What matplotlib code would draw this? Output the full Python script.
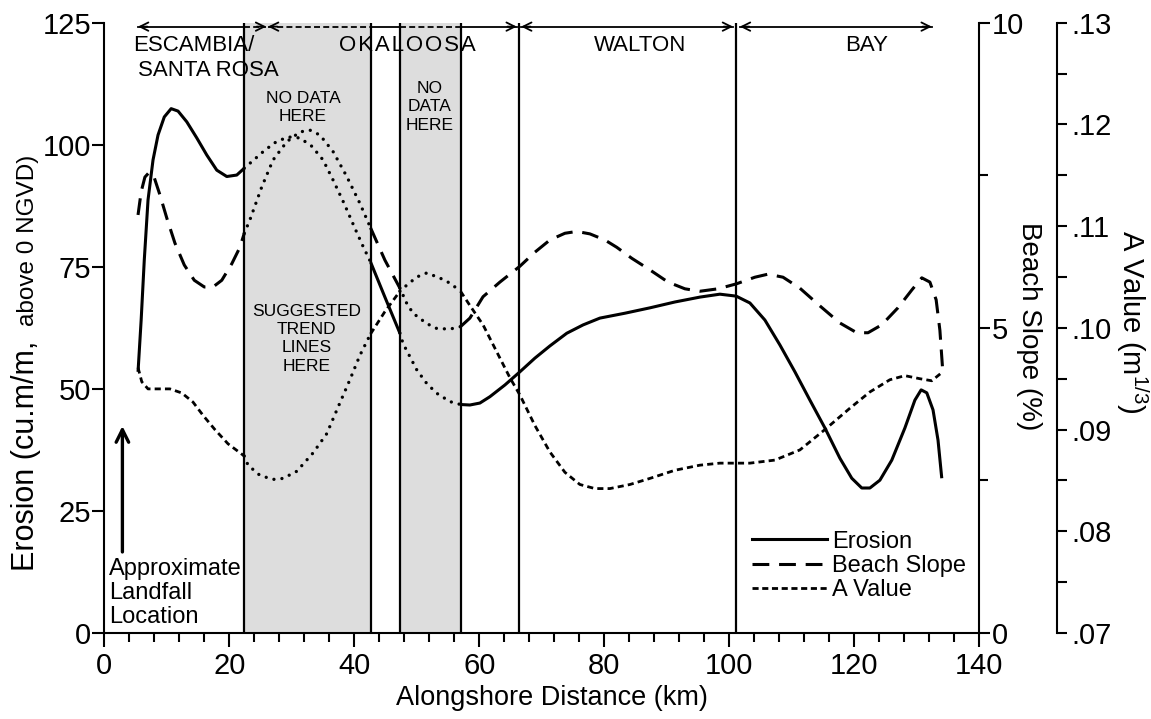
import numpy as np
import matplotlib.pyplot as plt
from matplotlib import ticker
from matplotlib.lines import Line2D

plt.rcParams['font.family'] = ['Liberation Sans', 'DejaVu Sans']

# alongshore distance (km) and values
erosion_km = [5.4, 5.9, 6.4, 7.0, 7.8, 8.6, 9.6, 10.7, 11.8, 13.2, 14.8, 16.4, 18.0, 19.6, 21.2, 22.4,
              24.1, 25.7, 27.5, 29.4, 31.3, 33.2, 35.0, 36.6, 38.4, 40.1, 41.4, 42.6, 44.9, 47.3,
              47.8, 48.9, 50.0, 51.6, 53.2, 55.3, 57.0, 58.5, 60.1, 61.7, 64.1, 66.5, 68.9, 71.3,
              74.0, 76.6, 79.3, 83.3, 87.3, 91.3, 95.3, 98.5, 101.1, 103.3, 105.7, 108.1, 110.5,
              112.9, 115.3, 117.7, 119.6, 121.2, 122.5, 124.1, 126.0, 128.1, 129.7, 130.7, 131.6,
              132.6, 133.4, 134.0]
erosion = [53.5, 64.1, 76.4, 88.7, 96.9, 102.0, 105.7, 107.4, 106.9, 104.7, 101.4, 97.9, 94.8, 93.5,
           93.8, 95.2, 97.1, 98.9, 100.6, 101.6, 101.4, 99.7, 96.9, 92.8, 87.9, 82.9, 79.2, 76.0,
           68.8, 61.4, 59.3, 56.6, 53.9, 51.1, 49.1, 47.4, 46.8, 46.7, 47.1, 48.4, 50.8, 53.5, 56.3,
           58.8, 61.4, 63.1, 64.5, 65.5, 66.6, 67.8, 68.8, 69.4, 69.0, 67.6, 64.1, 59.0, 53.5, 47.7,
           42.0, 35.8, 31.7, 29.7, 29.7, 31.3, 35.4, 42.0, 47.7, 49.8, 49.2, 45.7, 39.5, 31.7]

slope_km = [5.4, 5.9, 6.5, 7.2, 8.0, 8.9, 10.0, 11.3, 12.8, 14.4, 16.0, 17.4, 18.8, 20.4, 21.7, 22.4,
            23.3, 25.2, 27.0, 29.2, 31.3, 32.9, 34.5, 36.6, 38.8, 40.9, 42.6, 44.9, 47.3, 48.4,
            49.4, 51.6, 53.2, 55.3, 57.0, 58.5, 60.6, 63.3, 66.5, 68.9, 71.3, 73.7, 75.6, 77.7,
            80.1, 82.0, 84.4, 87.3, 90.2, 92.9, 95.3, 98.2, 101.1, 104.1, 106.2, 108.6, 111.3,
            114.5, 117.7, 120.4, 122.2, 124.4, 127.0, 129.2, 130.8, 132.1, 133.1, 133.7, 134.2]
slope = [6.85, 7.23, 7.47, 7.55, 7.46, 7.18, 6.80, 6.39, 6.03, 5.78, 5.67, 5.67, 5.78, 6.05, 6.32,
         6.55, 6.77, 7.31, 7.75, 8.05, 8.21, 8.24, 8.16, 7.89, 7.48, 7.04, 6.64, 6.11, 5.65, 5.40,
         5.24, 5.07, 4.99, 4.98, 5.02, 5.16, 5.51, 5.75, 6.01, 6.24, 6.44, 6.55, 6.58, 6.54, 6.44,
         6.32, 6.14, 5.95, 5.75, 5.64, 5.60, 5.64, 5.72, 5.83, 5.88, 5.83, 5.65, 5.36, 5.08, 4.92,
         4.92, 5.05, 5.33, 5.62, 5.82, 5.75, 5.46, 4.96, 4.23]

a_km = [5.4, 6.0, 7.0, 8.6, 10.5, 12.4, 14.2, 15.8, 17.7, 19.8, 22.4, 23.0, 24.9, 27.0, 28.6, 30.8,
        33.4, 35.6, 37.4, 39.3, 40.9, 42.6, 44.9, 47.3, 48.4, 50.0, 51.6, 53.7, 55.3, 57.0, 58.5,
        60.6, 62.5, 64.9, 66.5, 68.9, 71.3, 73.7, 76.1, 78.5, 80.9, 84.1, 87.3, 91.3, 95.3, 98.5,
        103.3, 107.3, 111.3, 115.3, 119.3, 122.5, 125.7, 128.1, 130.5, 132.4, 134.2]
a_value = [.0961, .0947, .0940, .0940, .0940, .0936, .0927, .0914, .0900, .0886, .0874, .0865, .0855,
           .0851, .0852, .0859, .0877, .0896, .0922, .0949, .0973, .0994, .1016, .1036, .1042, .1050,
           .1054, .1049, .1044, .1036, .1022, .1003, .0980, .0951, .0934, .0904, .0878, .0858, .0846,
           .0842, .0842, .0846, .0852, .0860, .0865, .0867, .0867, .0870, .0880, .0900, .0921, .0937,
           .0949, .0953, .0950, .0948, .0957]

county_lines = [22.4, 42.6, 47.3, 57.0, 66.4, 101.0]
no_data = [(22.4, 42.6), (47.3, 57.0)]
county_ranges = [(5.4, 25.9), (26.2, 66.0), (66.7, 100.6), (101.7, 132.4)]


def inside(x, strict=True):
    x = np.asarray(x)
    m = np.zeros(len(x), dtype=bool)
    for a, b in no_data:
        if strict:
            m |= (x > a + 1e-6) & (x < b - 1e-6)
        else:
            m |= (x >= a - 1e-6) & (x <= b + 1e-6)
    return m


dotted = dict(color='k', lw=2.4, ls=(0, (0.01, 2.4)), dash_capstyle='round', zorder=3)


def draw_series(axis, x, y, **style):
    x = np.asarray(x)
    y = np.asarray(y)
    axis.plot(x, np.where(inside(x), np.nan, y), color='k', zorder=3, **style)
    axis.plot(x, np.where(inside(x, strict=False), y, np.nan), **dotted)


fig = plt.figure(figsize=(11.51, 7.19), dpi=100)
ax = fig.add_axes([0.0906, 0.1196, 0.7602, 0.8488])
ax2 = ax.twinx()
ax3 = ax.twinx()

ax.set_xlim(0, 140)
ax.set_ylim(0, 125)
ax2.set_ylim(0, 10)
ax3.set_ylim(0.07, 0.13)

for a, b in no_data:
    ax.axvspan(a, b, color='#dddddd', lw=0, zorder=0)
for x in county_lines:
    ax.axvline(x, color='k', lw=1.6, zorder=1)

draw_series(ax, erosion_km, erosion, lw=2.2, solid_capstyle='butt')
draw_series(ax2, slope_km, slope, lw=2.2, ls=(0, (5.5, 3.2)))
draw_series(ax3, a_km, a_value, lw=2.0, ls=(0, (2.2, 1.5)))

# county arrows along the top
arrow_y = 124.2
for x0, x1 in county_ranges:
    edges = sorted([x0, x1] + [e for span in no_data for e in span if x0 < e < x1])
    for a, b in zip(edges[:-1], edges[1:]):
        gap = any(s0 < (a + b) / 2 < s1 for s0, s1 in no_data)
        ax.plot([a, b], [arrow_y, arrow_y], color='k', lw=1.3,
                ls=(0, (3.3, 1.8)) if gap else '-', zorder=2)
    for tip, tail in ((x0, x0 + 1.5), (x1, x1 - 1.5)):
        ax.annotate('', xy=(tip, arrow_y), xytext=(tail, arrow_y),
                    arrowprops=dict(arrowstyle='->,head_length=0.6,head_width=0.3', lw=1.3,
                                    color='k', shrinkA=0, shrinkB=0), zorder=2)

ax.text(4.6, 119.2, 'ESCAMBIA/', fontsize=16, ha='left', va='baseline')
ax.text(5.4, 114.1, 'SANTA ROSA', fontsize=16, ha='left', va='baseline')
ax.text(48.5, 119.2, '\u200a'.join('OKALOOSA'), fontsize=16, ha='center', va='baseline')
ax.text(85.7, 119.2, 'WALTON', fontsize=16, ha='center', va='baseline')
ax.text(121.9, 119.2, 'BAY', fontsize=16, ha='center', va='baseline')

ax.text(31.8, 107.6, 'NO DATA\nHERE', fontsize=12.5, ha='center', va='center', linespacing=1.28)
ax.text(52.0, 107.8, 'NO\nDATA\nHERE', fontsize=12.5, ha='center', va='center', linespacing=1.28)
ax.text(32.4, 60.3, 'SUGGESTED\nTREND\nLINES\nHERE', fontsize=12.5, ha='center', va='center',
        linespacing=1.28)

ax.annotate('', xy=(2.9, 42.4), xytext=(2.9, 16.6),
            arrowprops=dict(arrowstyle='->,head_length=0.9,head_width=0.45', lw=2.4, color='k',
                            shrinkA=0, shrinkB=0))
ax.text(0.7, 15.4, 'Approximate\nLandfall\nLocation', fontsize=17, ha='left', va='top',
        linespacing=1.12)

# axes and ticks
for s in ('top', 'right'):
    ax.spines[s].set_visible(False)
for a in (ax2, ax3):
    for s in ('top', 'left', 'bottom'):
        a.spines[s].set_visible(False)
ax3.spines['right'].set_position(('axes', 1.0888))
for a in (ax, ax2, ax3):
    for s in a.spines.values():
        s.set_linewidth(1.5)

ax.set_xticks(range(0, 141, 20))
ax.xaxis.set_minor_locator(ticker.MultipleLocator(4))
ax.set_yticks(range(0, 126, 25))
ax.tick_params(axis='x', which='major', length=10, width=1.5, labelsize=21, pad=4)
ax.tick_params(axis='x', which='minor', length=6.5, width=1.5)
ax.tick_params(axis='y', which='major', length=8.5, width=1.5, labelsize=21, pad=1)

ax2.set_yticks([0, 5, 10])
ax2.set_yticks([2.5, 7.5], minor=True)
ax2.tick_params(axis='y', which='major', length=8, width=1.5, labelsize=21, pad=1)
ax2.tick_params(axis='y', which='minor', length=6.5, width=1.5)

ax3.set_yticks(np.arange(7, 14) / 100)
ax3.set_yticks(np.arange(15, 26, 2) / 200, minor=True)
ax3.yaxis.set_major_formatter(ticker.FuncFormatter(lambda v, p: ('%.2f' % v)[1:]))
ax3.tick_params(axis='y', which='major', length=7.5, width=1.5, labelsize=21, pad=3)
ax3.tick_params(axis='y', which='minor', length=7.5, width=1.5)

ax.set_xlabel('Alongshore Distance (km)', fontsize=19.5)
ax.xaxis.set_label_coords(0.512, -0.086)

fig.text(34 / 1151, (719 - 571) / 719, 'Erosion (cu.m/m,', fontsize=22, rotation=90,
         rotation_mode='anchor', ha='left', va='baseline')
fig.text(34 / 1151, (719 - 326) / 719, 'above 0 NGVD)', fontsize=17.5, rotation=90,
         rotation_mode='anchor', ha='left', va='baseline')
fig.text(1029 / 1151, (719 - 326) / 719, 'Beach Slope (%)', fontsize=20, rotation=270,
         ha='center', va='center')
fig.text(1132 / 1151, (719 - 322) / 719, r'A Value ($\mathregular{m^{1/3}}$)', fontsize=21,
         rotation=270, ha='center', va='center')

handles = [Line2D([], [], color='k', lw=2.2),
           Line2D([], [], color='k', lw=2.2, ls=(0, (5.5, 3.2))),
           Line2D([], [], color='k', lw=2.0, ls=(0, (2.2, 1.3)))]
ax3.legend(handles, ['Erosion', 'Beach Slope', 'A Value'], loc='upper left',
           bbox_to_anchor=(0.653, 0.262), bbox_transform=fig.transFigure, frameon=False,
           fontsize=17, handlelength=3.2, handletextpad=0.2, labelspacing=0.1,
           borderpad=0, borderaxespad=0)

fig.savefig('out.png', dpi=100)
